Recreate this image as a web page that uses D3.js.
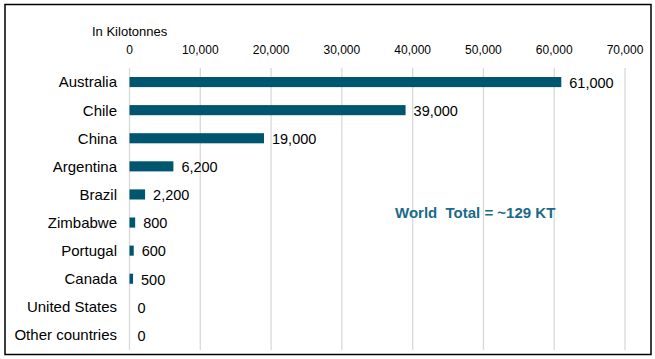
<!DOCTYPE html>
<html>
<head>
<meta charset="utf-8">
<script src="https://cdn.jsdelivr.net/npm/d3@7"></script>
<style>
  body { margin: 0; background: #fff; }
  text { font-family: "Liberation Sans", Arial, sans-serif; }
</style>
</head>
<body>
<svg id="chart" width="655" height="359"></svg>
<script>
const countries = ["Australia", "Chile", "China", "Argentina", "Brazil", "Zimbabwe", "Portugal", "Canada", "United States", "Other countries"]
const values = [61000, 39000, 19000, 6200, 2200, 800, 600, 500, 0, 0]
const tickValues = [0, 10000, 20000, 30000, 40000, 50000, 60000, 70000]

const svg = d3.select("#chart")

// outer frame
svg.append("rect")
    .attr("x", 5).attr("y", 4.5)
    .attr("width", 646).attr("height", 350)
    .attr("fill", "none")
    .attr("stroke", "#000")
    .attr("stroke-width", 1.5)

const x = d3.scaleLinear().domain([0, 70000]).range([129.5, 625])
const y = d3.scaleBand().domain(countries).range([68, 349]).paddingInner(0.64).paddingOuter(0.32)

// gridlines
svg.append("g").selectAll("line")
    .data(tickValues)
    .enter().append("line")
    .attr("x1", d => x(d)).attr("x2", d => x(d))
    .attr("y1", 68).attr("y2", 350)
    .attr("stroke", "#d9d9d9")
    .attr("stroke-width", 1.3)

// top axis labels
const fmt = d3.format(",")
svg.append("g").selectAll("text")
    .data(tickValues)
    .enter().append("text")
    .attr("x", d => x(d))
    .attr("y", 54)
    .attr("text-anchor", "middle")
    .attr("font-size", 12)
    .attr("fill", "#000")
    .text(d => fmt(d))

svg.append("text")
    .attr("x", 92).attr("y", 36)
    .attr("font-size", 13)
    .attr("fill", "#000")
    .text("In Kilotonnes")

// bars
svg.append("g").selectAll("rect")
    .data(values)
    .enter().append("rect")
    .attr("x", x(0))
    .attr("y", (d, i) => y(countries[i]))
    .attr("width", d => x(d) - x(0))
    .attr("height", y.bandwidth())
    .attr("fill", "#00566e")

// category labels
svg.append("g").selectAll("text")
    .data(countries)
    .enter().append("text")
    .attr("x", 117)
    .attr("y", d => y(d) + y.bandwidth() / 2)
    .attr("dy", "0.36em")
    .attr("text-anchor", "end")
    .attr("font-size", 15)
    .attr("fill", "#000")
    .text(d => d)

// value labels
svg.append("g").selectAll("text")
    .data(values)
    .enter().append("text")
    .attr("x", d => x(d) + 8)
    .attr("y", (d, i) => y(countries[i]) + y.bandwidth() / 2)
    .attr("dy", "0.4em")
    .attr("font-size", 14.5)
    .attr("fill", "#000")
    .text(d => fmt(d))

svg.append("text")
    .attr("x", 395).attr("y", 218)
    .attr("font-size", 15)
    .attr("font-weight", "bold")
    .attr("fill", "#1a6a88")
    .attr("xml:space", "preserve")
    .style("white-space", "pre")
    .text("World  Total = ~129 KT")
</script>
</body>
</html>
